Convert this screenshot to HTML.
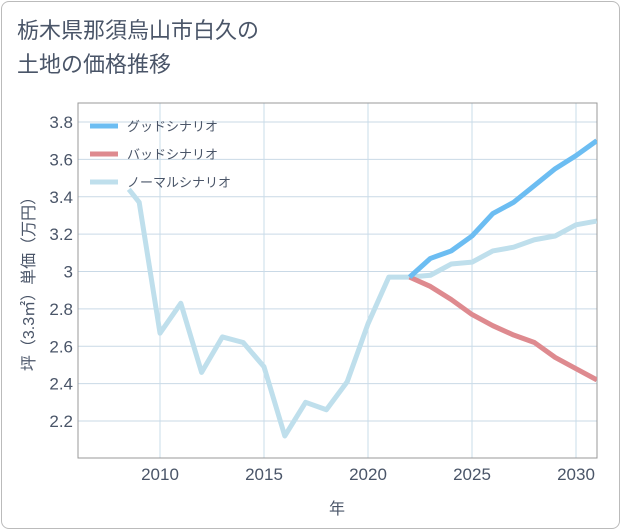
<!DOCTYPE html>
<html><head><meta charset="utf-8"><style>
body{margin:0;background:#fff;}
#card{position:absolute;left:1px;top:1px;width:617px;height:526px;border:1px solid #bbb;border-radius:8px;background:#fff;}
#title{position:absolute;left:17px;top:14px;font:22px "Liberation Sans","Noto Sans CJK JP",sans-serif;color:#4a5568;line-height:34px;}
svg{position:absolute;left:0;top:0;}
text{font-family:"Liberation Sans","Noto Sans CJK JP",sans-serif;}
</style></head><body>
<div id="card"></div>
<div id="title">栃木県那須烏山市白久の<br>土地の価格推移</div>
<svg id="chart" width="621" height="530"></svg>
<script>
const histYears=[2008.5,2009,2010,2011,2012,2013,2014,2015,2016,2017,2018,2019,2020,2021,2022];
const histValues=[3.44,3.37,2.67,2.83,2.46,2.65,2.62,2.49,2.12,2.30,2.26,2.41,2.72,2.97,2.97];
const futYears=[2022,2023,2024,2025,2026,2027,2028,2029,2030,2031];
const goodValues=[2.97,3.07,3.11,3.19,3.31,3.37,3.46,3.55,3.62,3.70];
const badValues=[2.97,2.92,2.85,2.77,2.71,2.66,2.62,2.54,2.48,2.42];
const normalValues=[2.97,2.98,3.04,3.05,3.11,3.13,3.17,3.19,3.25,3.27];
const xTicks=[2010,2015,2020,2025,2030];
const yTicks=[2.2,2.4,2.6,2.8,3.0,3.2,3.4,3.6,3.8];
const yTickLabels=["2.2","2.4","2.6","2.8","3","3.2","3.4","3.6","3.8"];
const legendLabels=["グッドシナリオ","バッドシナリオ","ノーマルシナリオ"];
const colors=["#6cbdf2","#de8a8f","#bfdfec"];

const L=78,R=597,T=103,B=458;
const TXT='#4a5568';
const x=v=>160+(v-2010)*(576-160)/20;
const y=v=>122+(3.8-v)*(421-122)/1.6;
const svg=document.getElementById('chart');
const NS='http://www.w3.org/2000/svg';
function mk(tag,attrs,parent){const e=document.createElementNS(NS,tag);for(const k in attrs)e.setAttribute(k,attrs[k]);(parent||svg).appendChild(e);return e;}

yTicks.forEach((v,i)=>{
 const g=mk('line',{x1:L,x2:R,y1:y(v),y2:y(v),stroke:'#c9d9e6','stroke-width':1});
 
 
 const t=mk('text',{x:L-5,y:y(v)+6,'text-anchor':'end','font-size':17,fill:TXT});
 t.textContent=yTickLabels[i];
 
 
});
xTicks.forEach(v=>{
 const g=mk('line',{x1:x(v),x2:x(v),y1:T,y2:B,stroke:'#c9dcea','stroke-width':1});
 
 
 const t=mk('text',{x:x(v),y:B+22,'text-anchor':'middle','font-size':17,fill:TXT});
 t.textContent=v;
 
 
});
const fr=mk('rect',{x:L,y:T,width:R-L,height:B-T,fill:'none',stroke:'#999','stroke-width':1});



const clip=mk('clipPath',{id:'cp'});mk('rect',{x:L,y:T,width:R-L,height:B-T},clip);
function line(xs,vs,c,name){
 const p=mk('polyline',{points:xs.map((a,i)=>x(a)+','+y(vs[i])).join(' '),fill:'none',stroke:c,'stroke-width':5,'stroke-linejoin':'round','clip-path':'url(#cp)'});
 
 
}
line(histYears,histValues,colors[2],'history-line');
line(futYears,normalValues,colors[2],'normal-scenario-line');
line(futYears,badValues,colors[1],'bad-scenario-line');
line(futYears,goodValues,colors[0],'good-scenario-line');

legendLabels.forEach((s,i)=>{
 const yy=126+i*28;
 const l=mk('line',{x1:90,x2:118,y1:yy,y2:yy,stroke:colors[i],'stroke-width':5});
 
 
 const t=mk('text',{x:127,y:yy+5,'font-size':13,fill:TXT});
 t.textContent=s;
 
 
});
const xt=mk('text',{x:337,y:514,'text-anchor':'middle','font-size':16,fill:TXT});
xt.textContent='年';


const yt=mk('text',{x:0,y:0,'text-anchor':'middle','font-size':16,fill:TXT,transform:'translate(34,280) rotate(-90)'});
yt.textContent='坪（3.3㎡）単価（万円）';


</script>
</body></html>
